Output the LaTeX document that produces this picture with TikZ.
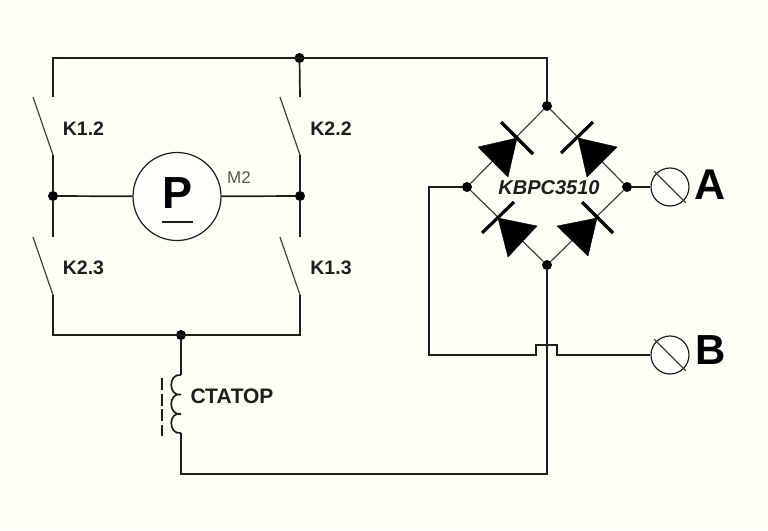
\documentclass[tikz,border=0pt]{standalone}
\usepackage{fontspec}
\usetikzlibrary{calc}
\setmainfont{Liberation Sans}
\definecolor{bgc}{HTML}{FEFFF5}
\definecolor{inkc}{HTML}{1E1E1A}
\tikzset{
  wire/.style={draw=inkc,line width=1.7pt},
  thin wire/.style={draw=inkc!85!white,line width=1.2pt},
  junction/.style={circle,fill=black,inner sep=0pt,minimum size=10pt},
  bar/.style={draw=black,line width=3.2pt},
  tri/.style={fill=black,draw=black,line width=.4pt,line join=miter},
  term/.style={circle,draw=inkc,line width=1.2pt,fill=white!60!bgc,inner sep=0pt,minimum size=38pt},
  lab/.style={font=\fontsize{19.5}{21}\selectfont\bfseries,text=inkc,inner sep=0pt}
}
\begin{document}
\begin{tikzpicture}[x=1pt,y=-1pt]
\useasboundingbox[fill=bgc] (0,0) rectangle (768,530);
% named points
\coordinate (c1) at (53,58);
\coordinate (c2) at (547,58);
\coordinate (s1a) at (53,97);   \coordinate (s1b) at (33,97);  \coordinate (s1c) at (53,155);
\coordinate (s2a) at (300,97);  \coordinate (s2b) at (280,97); \coordinate (s2c) at (300,155);
\coordinate (s3a) at (53,237);  \coordinate (s3b) at (33,237); \coordinate (s3c) at (53,295);
\coordinate (s4a) at (300,237); \coordinate (s4b) at (280,237);\coordinate (s4c) at (300,295);
\coordinate (c3) at (53,335);
\coordinate (c4) at (300,335);
\coordinate (l1) at (181,375);
\coordinate (l2) at (181,394.5);
\coordinate (l3) at (181,414);
\coordinate (l4) at (181,433);
\coordinate (c5) at (181,474);
\coordinate (c6) at (547,474);
\coordinate (c7) at (429,187);
\coordinate (c8) at (429,355);
\coordinate (c9) at (536,355);
\coordinate (c10) at (536,345);
\coordinate (c11) at (557,345);
\coordinate (c12) at (557,355);
\coordinate (d1) at (162,378);
\coordinate (d2) at (162,436);
% junctions
\node[junction] (jtop) at (299.5,58) {};
\node[junction] (jl) at (53,196) {};
\node[junction] (jr) at (300,196) {};
\node[junction] (jbot) at (181,335) {};
\node[junction] (bt) at (547,106) {};
\node[junction] (bl) at (467,187) {};
\node[junction] (br) at (627,187) {};
\node[junction] (bb) at (547,265) {};
% motor and terminals
\node[term,minimum size=88pt] (motor) at (177,196.5) {};
\node[term] (ta) at (670,187) {};
\node[term] (tb) at (670,355) {};
% wiring
\draw[wire] (s1a) -- (c1) -- (c2) -- (bt);
\draw[wire] (jtop) -- (s2a);
\draw[thin wire] (s1b) -- (s1c);
\draw[wire] (s1c) -- (jl) -- (s3a);
\draw[thin wire] (s2b) -- (s2c);
\draw[wire] (s2c) -- (jr) -- (s4a);
\draw[thin wire] (s3b) -- (s3c);
\draw[thin wire] (s4b) -- (s4c);
\draw[wire] (s3c) -- (c3) -- (c4) -- (s4c);
\draw[wire] (jl) -- (motor);
\draw[wire] (motor) -- (jr);
\draw[wire] (jbot) -- (l1);
\draw[wire] (l1) .. controls (168,373) and (168,397) .. (l2)
           .. controls (168,392) and (168,416) .. (l3)
           .. controls (168,411) and (168,435) .. (l4);
\draw[wire] (l4) -- (c5) -- (c6) -- (bb);
\draw[draw=inkc,line width=1.2pt,dash pattern=on 12pt off 3.5pt] (d1) -- (d2);
% bridge
\draw[thin wire] (bt) -- (bl) -- (bb) -- (br) -- (bt);
\draw[wire] (bl) -- (c7) -- (c8) -- (c9) -- (c10) -- (c11) -- (c12) -- (tb);
\draw[wire] (br) -- (ta);
% diodes
\fill[tri] (517,138) -- (478,147) -- (508,177) -- cycle;
\draw[bar] (501,122) -- (533,154);
\fill[tri] (578,138) -- (617,147) -- (587,177) -- cycle;
\draw[bar] (561,153) -- (593,122);
\fill[tri] (498,218) -- (508,257) -- (537,226) -- cycle;
\draw[bar] (482,233) -- (514,202);
\fill[tri] (597,218) -- (557,226) -- (588,256) -- cycle;
\draw[bar] (582,202) -- (613,233);
% terminal slashes
\draw[thin wire] ($(ta.north west)+(-2,-2)$) -- ($(ta.south east)+(2,2)$);
\draw[thin wire] ($(tb.north west)+(-2,-2)$) -- ($(tb.south east)+(2,2)$);
% labels
\node[lab] (k12) at (83.5,128.5) {K1.2};
\node[lab] (k22) at (331,128.5) {K2.2};
\node[lab] (k23) at (83.5,268) {K2.3};
\node[lab] (k13) at (331,268) {K1.3};
\node[lab,font=\fontsize{21}{22}\selectfont\bfseries] (st) at (232,396) {СТАТОР};
\node[font=\fontsize{17}{18}\selectfont,text=inkc!75!white,inner sep=0pt] (m2) at (239,178) {M2};
\node[font=\fontsize{45}{46}\selectfont\bfseries,text=black,inner sep=0pt] (pp) at (178,193.5) {P};
\draw[draw=inkc,line width=1.1pt] (162,222) -- (193,222);
\node[font=\fontsize{20}{22}\selectfont\bfseries\itshape,text=inkc,inner sep=0pt] (kb) at (549,188) {KBPC3510};
\node[font=\fontsize{43}{44}\selectfont\bfseries,text=black,inner sep=0pt] (la) at (710.5,184.5) {A};
\node[font=\fontsize{42}{44}\selectfont\bfseries,text=black,inner sep=0pt] (lb) at (711,350) {B};
\end{tikzpicture}
\end{document}
